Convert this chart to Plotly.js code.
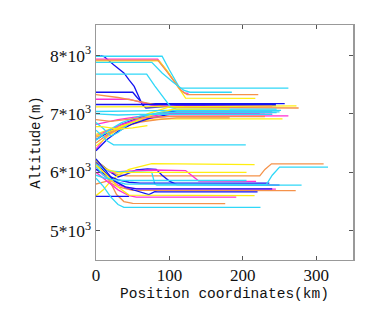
<!DOCTYPE html>
<html>
<head>
<meta charset="utf-8">
<script src="https://cdn.plot.ly/plotly-3.0.1.min.js"></script>
<style>
  html, body { margin: 0; padding: 0; background: #fff; }
  #chart { width: 391px; height: 323px; }
</style>
</head>
<body>
<div id="chart"></div>
<script>
/* altitude profiles vs position, one polyline per flight, grouped by colour */
const BLUE = [
  [[6, 11, 24, 38, 45, 52, 58, 63, 68, 85, 110, 245], [7995, 7980, 7840, 7700, 7580, 7470, 7300, 7160, 7100, 7120, 7140, 7140]],
  [[0, 50, 56, 62, 70, 257], [7370, 7370, 7280, 7200, 7175, 7175]],
  [[0, 30, 60, 100, 245], [7160, 7160, 7165, 7160, 7160]],
  [[0, 8, 20, 35, 55, 80, 110, 240], [6560, 6620, 6720, 6820, 6920, 7000, 7050, 7050]],
  [[0, 5, 15, 30, 50, 75, 100, 230], [6370, 6430, 6560, 6700, 6830, 6930, 6990, 6990]],
  [[0, 10, 20, 30, 40, 55, 70, 82, 90, 100, 110, 250], [6200, 6100, 6000, 5920, 5960, 6040, 6060, 6050, 5950, 5850, 5790, 5780]],
  [[0, 20, 40, 60, 72, 80, 84, 220], [6170, 5900, 5740, 5660, 5620, 5670, 5665, 5665]],
  [[0, 45], [5590, 5590]],
  [[0, 15, 30, 45, 60, 236], [6050, 5950, 5870, 5830, 5815, 5815]],
  [[0, 12, 25, 40, 55, 240], [6230, 6050, 5850, 5750, 5715, 5715]],
];
const CYAN = [
  [[0, 90, 100, 108, 114, 262], [7985, 7985, 7750, 7560, 7440, 7440]],
  [[0, 76, 90, 105, 120, 128, 185], [7880, 7880, 7700, 7540, 7400, 7370, 7370]],
  [[0, 69, 80, 92, 102, 110, 246], [7680, 7680, 7480, 7270, 7110, 7080, 7080]],
  [[0, 30, 60, 100, 252], [7040, 7040, 7050, 7060, 7060]],
  [[0, 10, 20, 30, 45, 70, 100, 246], [6850, 6750, 6620, 6680, 6830, 6970, 7020, 7020]],
  [[0, 15, 35, 60, 90, 250], [6550, 6700, 6850, 6960, 7030, 7035]],
  [[0, 8, 15, 24, 204], [6720, 6620, 6540, 6470, 6470]],
  [[0, 15, 30, 76, 80, 83, 280], [6140, 6030, 6010, 6000, 5800, 5780, 5780]],
  [[0, 10, 25, 40, 232, 240, 250, 316], [6100, 5950, 5850, 5800, 5790, 5950, 6090, 6090]],
  [[0, 12, 25, 40, 205], [5950, 5900, 5870, 5860, 5860]],
  [[0, 10, 20, 30, 38, 224], [5900, 5760, 5580, 5450, 5400, 5400]],
  [[0, 15, 30, 60, 240], [7000, 6990, 6980, 6990, 6990]],
];
const MAGENTA = [
  [[0, 84, 95, 105, 114, 120, 126], [7935, 7935, 7760, 7580, 7420, 7360, 7350]],
  [[0, 45, 60, 75, 100, 240], [7250, 7250, 7200, 7150, 7130, 7130]],
  [[0, 10, 25, 45, 70, 100, 262], [6400, 6550, 6740, 6850, 6920, 6960, 6965]],
  [[0, 15, 30, 55, 80, 100, 223], [6820, 6860, 6900, 6950, 6990, 7000, 7000]],
  [[0, 15, 35, 60, 90, 240], [6620, 6700, 6820, 6920, 6990, 6995]],
  [[0, 20, 40, 80, 122, 130, 140, 218], [6160, 6000, 6020, 6040, 6030, 5950, 5850, 5845]],
  [[0, 15, 30, 45, 60, 245], [6060, 5900, 5780, 5730, 5715, 5712]],
  [[0, 15, 30, 45, 55, 191], [6000, 5850, 5700, 5600, 5575, 5575]],
];
const YELLOW = [
  [[0, 86, 98, 108, 116, 122, 217], [7905, 7905, 7720, 7540, 7380, 7270, 7265]],
  [[0, 60, 120], [7120, 7125, 7125]],
  [[0, 20, 45, 70, 100, 273], [6450, 6650, 6850, 7000, 7120, 7135]],
  [[0, 15, 35, 60, 90, 254], [6650, 6720, 6800, 6880, 6915, 6915]],
  [[0, 15, 30, 55, 80, 106, 182], [6620, 6680, 6760, 6880, 7000, 7080, 7080]],
  [[0, 8, 20, 30, 50, 70], [6780, 6780, 6760, 6740, 6760, 6800]],
  [[0, 10, 20, 30, 45, 60, 76, 216], [5600, 5700, 5850, 5950, 6050, 6100, 6150, 6130]],
  [[0, 15, 30, 50, 205], [6200, 6050, 5990, 6000, 6000]],
  [[0, 15, 30, 45, 216], [6120, 5950, 5750, 5610, 5600]],
];
const ORANGE = [
  [[0, 84, 96, 106, 116, 124, 221], [7920, 7920, 7730, 7560, 7400, 7330, 7330]],
  [[0, 30, 60, 85, 100, 276], [7330, 7280, 7210, 7150, 7110, 7100]],
  [[0, 20, 40, 60, 80, 100, 210], [6600, 6700, 6820, 6930, 6990, 7020, 7020]],
  [[0, 15, 35, 60, 85, 110, 182], [6500, 6640, 6770, 6860, 6900, 6930, 6930]],
  [[0, 10, 20, 30, 42, 223, 230, 239, 310], [6200, 6100, 6000, 5960, 5940, 5940, 6050, 6145, 6145]],
  [[0, 15, 30, 50, 272], [5800, 5850, 5750, 5690, 5688]],
  [[0, 10, 20, 28, 38, 50, 176], [6150, 6000, 5820, 5620, 5500, 5470, 5465]],
  [[0, 20, 40, 70, 100, 230], [6900, 6870, 6900, 6940, 6955, 6955]],
];

const Y_TICKS = [5000, 6000, 7000, 8000];
const Y_LABELS = ["5*10<sup>3</sup>", "6*10<sup>3</sup>", "7*10<sup>3</sup>", "8*10<sup>3</sup>"];
const X_TICKS = [0, 100, 200, 300];
const X_LABELS = ["0", "100", "200", "300"];

const GROUPS = [
  [BLUE, "#1212f2"], [CYAN, "#30d8f8"], [MAGENTA, "#ff30d2"],
  [YELLOW, "#ffee10"], [ORANGE, "#f5924a"],
];

// interleave colours so the overlap looks like the original plot order
const traces = [];
const most = Math.max(...GROUPS.map(g => g[0].length));
for (let i = 0; i < most; i++) {
  GROUPS.forEach(([lines, col]) => {
    if (!lines[i]) return;
    traces.push({
      type: "scatter", mode: "lines", x: lines[i][0], y: lines[i][1],
      line: { color: col, width: 1.3 }, hoverinfo: "skip", showlegend: false,
    });
  });
}

const serif = "Liberation Serif";
const mono = "Liberation Mono";
const tickFont = sz => ({ family: serif, size: sz, color: "#111", weight: "normal", style: "normal" });

Plotly.newPlot("chart", traces, {
  width: 391, height: 323,
  margin: { l: 96, r: 38, t: 25, b: 63 },
  paper_bgcolor: "#fff", plot_bgcolor: "#fff",
  font: { family: serif, size: 17, color: "#111" },
  showlegend: false,
  xaxis: {
    range: [0, 350], tickmode: "array", tickvals: X_TICKS, ticktext: X_LABELS,
    ticks: "inside", ticklen: 4, tickcolor: "#555",
    showline: true, mirror: "ticks", linecolor: "#999", linewidth: 1,
    showgrid: false, zeroline: false,
    tickfont: tickFont(17),
    title: { text: "Position coordinates(km)", font: { family: mono, size: 14.5, color: "#111" }, standoff: 3 },
  },
  yaxis: {
    range: [4500, 8520], tickmode: "array", tickvals: Y_TICKS, ticktext: Y_LABELS,
    ticks: "inside", ticklen: 4, tickcolor: "#555",
    showline: true, mirror: "ticks", linecolor: "#999", linewidth: 1.5,
    showgrid: false, zeroline: false,
    tickfont: tickFont(17.5),
    title: { text: "Altitude(m)", font: { family: mono, size: 14, color: "#111" }, standoff: 6 },
  },
}, { displayModeBar: false, staticPlot: true }).then(gd => {
  // the tick labels come out in the default face here, so set it on them directly
  gd.querySelectorAll(".xtick text, .ytick text").forEach(t => {
    t.style.fontFamily = serif;
    t.style.fontSize = t.closest(".ytick") ? "17.5px" : "17px";
  });
});
</script>
</body>
</html>
